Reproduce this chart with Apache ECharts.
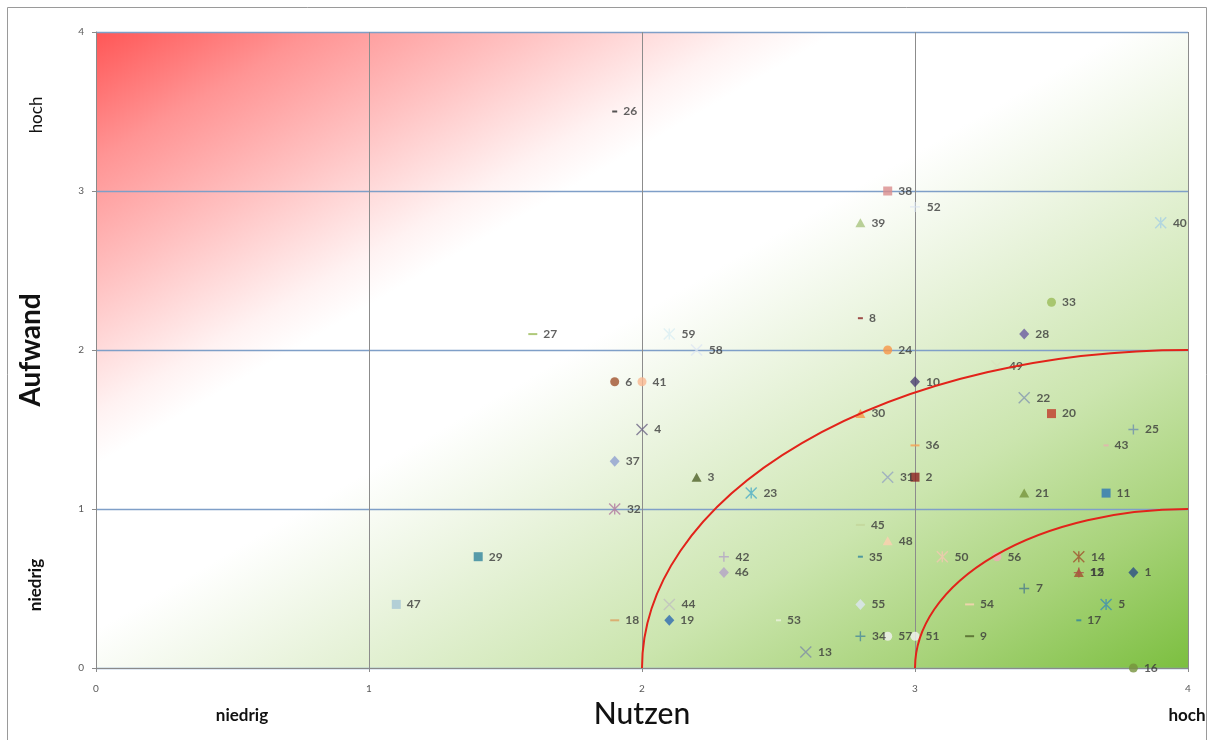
<!DOCTYPE html>
<html>
<head>
<meta charset="utf-8">
<title>Nutzen / Aufwand</title>
<script src="https://cdn.jsdelivr.net/npm/echarts@6/dist/echarts.min.js"></script>
<style>
  html, body { margin: 0; padding: 0; background: #ffffff; }
  #chart { width: 1214px; height: 740px; }
</style>
</head>
<body>
<div id="chart"></div>
<script>
// Measure numbers (Maßnahmen 1–59)
const ids = [
  1, 2, 3, 4, 5, 6, 7, 8, 9, 10,
  11, 12, 13, 14, 15, 16, 17, 18, 19, 20,
  21, 22, 23, 24, 25, 26, 27, 28, 29, 30,
  31, 32, 33, 34, 35, 36, 37, 38, 39, 40,
  41, 42, 43, 44, 45, 46, 47, 48, 49, 50,
  51, 52, 53, 54, 55, 56, 57, 58, 59
];
// Benefit (x)
const nutzen = [
  3.8, 3.0, 2.2, 2.0, 3.7, 1.9, 3.4, 2.8, 3.2, 3.0,
  3.7, 3.6, 2.6, 3.6, 3.6, 3.8, 3.6, 1.9, 2.1, 3.5,
  3.4, 3.4, 2.4, 2.9, 3.8, 1.9, 1.6, 3.4, 1.4, 2.8,
  2.9, 1.9, 3.5, 2.8, 2.8, 3.0, 1.9, 2.9, 2.8, 3.9,
  2.0, 2.3, 3.7, 2.1, 2.8, 2.3, 1.1, 2.9, 3.3, 3.1,
  3.0, 3.0, 2.5, 3.2, 2.8, 3.3, 2.9, 2.2, 2.1
];
// Effort (y)
const aufwand = [
  0.6, 1.2, 1.2, 1.5, 0.4, 1.8, 0.5, 2.2, 0.2, 1.8,
  1.1, 0.6, 0.1, 0.7, 0.6, 0.0, 0.3, 0.3, 0.3, 1.6,
  1.1, 1.7, 1.1, 2.0, 1.5, 3.5, 2.1, 2.1, 0.7, 1.6,
  1.2, 1.0, 2.3, 0.2, 0.7, 1.4, 1.3, 3.0, 2.8, 2.8,
  1.8, 0.7, 1.4, 0.4, 0.9, 0.6, 0.4, 0.8, 1.9, 0.7,
  0.2, 2.9, 0.3, 0.4, 0.4, 0.7, 0.2, 2.0, 2.1
];
// Axis range and tick labels
const axisMin = 0;
const axisMax = 4;
const tickStep = 1;
const xTitle = 'Nutzen';
const yTitle = 'Aufwand';
// Radii (in axis units) of the boundary arcs around the corner (4, 0)
const arcCenter = [4, 0];
const arcRadii = [2, 1];

// ---- styling (marker shape and colour per measure) ----
const SHAPES = {
  D: { symbol: 'diamond', size: [10, 11], stroke: false },
  S: { symbol: 'rect', size: 9, stroke: false },
  T: { symbol: 'triangle', size: [10, 9], stroke: false },
  O: { symbol: 'circle', size: 9, stroke: false },
  X: { symbol: 'path://M0,0 L10,10 M10,0 L0,10', size: 11, stroke: true },
  A: { symbol: 'path://M0,0 L10,10 M10,0 L0,10 M5,0 L5,10', size: 11, stroke: true },
  P: { symbol: 'path://M5,0 L5,10 M0,5 L10,5', size: 10, stroke: true },
  s: { symbol: 'rect', size: [5, 2], stroke: false },
  l: { symbol: 'rect', size: [9, 2], stroke: false }
};
const markerShapes = [
  'D','S','T','X','A','O','P','s','l','D',
  'S','T','X','A','P','O','s','l','D','S',
  'T','X','A','O','P','s','l','D','S','T',
  'X','A','O','P','s','l','D','S','T','A',
  'O','P','s','X','l','D','S','T','X','A',
  'O','P','s','l','D','O','O','X','A'
];
const markerColors = [
  '#2C4D87', '#8C1F1F', '#4F6228', '#6E6787', '#3C8DB5', '#A0522D', '#4A7A8C', '#8B2323', '#4F6228', '#4B3F72',
  '#2E75B6', '#A0522D', '#7F8FA6', '#A0522D', '#B0504A', '#76923C', '#31859C', '#DDA060', '#2E6AB0', '#C0392B',
  '#77933C', '#8497B0', '#4BACC6', '#F79646', '#6F8FAF', '#2A2A2A', '#9BBB59', '#6A5AA0', '#31859C', '#F79646',
  '#95A5C0', '#B07AA0', '#9BBB59', '#4A8A9A', '#31859C', '#F7A050', '#8EA0D0', '#D98C8C', '#A9C47F', '#A6D0E4',
  '#FAB890', '#B3A2C7', '#E6B0B0', '#BFBFBF', '#C3D69B', '#B3A2C7', '#A5C5D5', '#FCD0B0', '#D7E4BD', '#F2C8B0',
  '#F2F2F2', '#DCE6F2', '#EBF1DE', '#FCD5B5', '#DCE6F2', '#F2A8B8', '#F2F2F2', '#DCE6F2', '#DAEEF3'
];

const points = ids.map(function (id, i) {
  const shape = SHAPES[markerShapes[i]];
  const color = markerColors[i];
  return {
    name: String(id),
    value: [nutzen[i], aufwand[i]],
    symbol: shape.symbol,
    symbolSize: shape.size,
    itemStyle: shape.stroke
      ? { color: color, borderColor: color, borderWidth: 1.4 }
      : { color: color, borderWidth: 0 }
  };
});

const FONT = 'Lato, "Open Sans", sans-serif';

const chart = echarts.init(document.getElementById('chart'), null, { renderer: 'canvas' });

chart.setOption({
  animation: false,
  backgroundColor: '#ffffff',
  grid: { left: 96, right: 26, top: 32, bottom: 72, outerBoundsMode: 'none', containLabel: false },
  xAxis: {
    type: 'value',
    min: axisMin, max: axisMax, interval: tickStep,
    name: xTitle,
    nameLocation: 'middle',
    nameGap: 31,
    nameTextStyle: { fontFamily: FONT, fontSize: 30, color: '#111', fontWeight: 500 },
    axisLine: { show: true, lineStyle: { color: '#8A8A8A', width: 1 } },
    axisTick: { show: true, length: 4, lineStyle: { color: '#8A8A8A' } },
    axisLabel: { margin: 16, fontFamily: FONT, fontSize: 10, color: '#595959' },
    splitLine: { show: true, lineStyle: { color: '#8C8C8C', width: 1 } }
  },
  yAxis: {
    type: 'value',
    min: axisMin, max: axisMax, interval: tickStep,
    name: yTitle,
    nameLocation: 'middle',
    nameGap: 51,
    nameRotate: 90,
    nameTextStyle: { fontFamily: FONT, fontSize: 28, color: '#111', fontWeight: 'bold' },
    axisLine: { show: true, lineStyle: { color: '#8A8A8A', width: 1 } },
    axisTick: { show: true, length: 4, lineStyle: { color: '#8A8A8A' } },
    axisLabel: { margin: 12, fontFamily: FONT, fontSize: 10, color: '#595959' },
    splitLine: { show: true, lineStyle: { color: '#7F9FC8', width: 1.3 } }
  },
  graphic: [
    {
      type: 'rect', silent: true, z: -100,
      shape: { x: 7.5, y: 7.5, width: 1199, height: 740 },
      style: { fill: 'none', stroke: '#9A9A9A', lineWidth: 1 }
    },
    {
      type: 'text', silent: true, x: 37, y: 115, rotation: Math.PI / 2,
      style: { text: 'hoch', font: '17px ' + FONT, fill: '#111', align: 'center', verticalAlign: 'middle' }
    },
    {
      type: 'text', silent: true, x: 36, y: 585, rotation: Math.PI / 2,
      style: { text: 'niedrig', font: 'bold 17px ' + FONT, fill: '#111', align: 'center', verticalAlign: 'middle' }
    },
    {
      type: 'text', silent: true, x: 242, y: 716,
      style: { text: 'niedrig', font: 'bold 17px ' + FONT, fill: '#111', align: 'center', verticalAlign: 'middle' }
    },
    {
      type: 'text', silent: true, x: 1187, y: 716,
      style: { text: 'hoch', font: 'bold 17px ' + FONT, fill: '#111', align: 'center', verticalAlign: 'middle' }
    }
  ],
  series: [
    {
      // diagonal red -> white -> green background of the plot area
      type: 'custom',
      z: -10,
      silent: true,
      data: [[axisMin, axisMax, axisMax, axisMin]],
      renderItem: function (params, api) {
        const p0 = api.coord([api.value(0), api.value(1)]);
        const p1 = api.coord([api.value(2), api.value(3)]);
        const W = p1[0] - p0[0];
        const H = p1[1] - p0[1];
        // gradient vector perpendicular to the plot's anti-diagonal
        const t = 2 / (1 / (W * W) + 1 / (H * H));
        return {
          type: 'rect',
          shape: { x: p0[0], y: p0[1], width: W, height: H },
          style: {
            fill: {
              type: 'linear', x: 0, y: 0, x2: t / (W * W), y2: t / (H * H), global: false,
              colorStops: [
                { offset: 0.00, color: '#FF5656' },
                { offset: 0.10, color: '#FF9494' },
                { offset: 0.20, color: '#FFC2C2' },
                { offset: 0.30, color: '#FFF2F2' },
                { offset: 0.34, color: '#FFFFFF' },
                { offset: 0.47, color: '#FFFFFF' },
                { offset: 0.60, color: '#E6F2D8' },
                { offset: 0.74, color: '#CBE5AE' },
                { offset: 0.87, color: '#A8D37A' },
                { offset: 1.00, color: '#7CBF40' }
              ]
            }
          }
        };
      }
    },
    {
      // quarter-ellipse boundaries around the corner (high benefit, low effort)
      type: 'custom',
      z: 3,
      silent: true,
      data: arcRadii.map(function (r) { return [arcCenter[0], arcCenter[1], r]; }),
      renderItem: function (params, api) {
        const cx = api.value(0), cy = api.value(1), r = api.value(2);
        const c = api.coord([cx, cy]);
        const left = api.coord([cx - r, cy]);
        const top = api.coord([cx, cy + r]);
        const rx = c[0] - left[0];
        const ry = c[1] - top[1];
        return {
          type: 'path',
          shape: {
            pathData: 'M' + left[0] + ',' + left[1] + ' A' + rx + ',' + ry + ' 0 0 1 ' + top[0] + ',' + top[1]
          },
          style: { fill: 'none', stroke: '#E2231A', lineWidth: 2 }
        };
      }
    },
    {
      type: 'scatter',
      z: 2,
      data: points,
      label: {
        show: true,
        position: 'right',
        distance: 6,
        formatter: '{b}',
        fontFamily: FONT,
        fontSize: 12,
        fontWeight: 'bold',
        color: '#3A3A3A'
      },
      emphasis: { disabled: true }
    }
  ]
});
</script>
</body>
</html>
